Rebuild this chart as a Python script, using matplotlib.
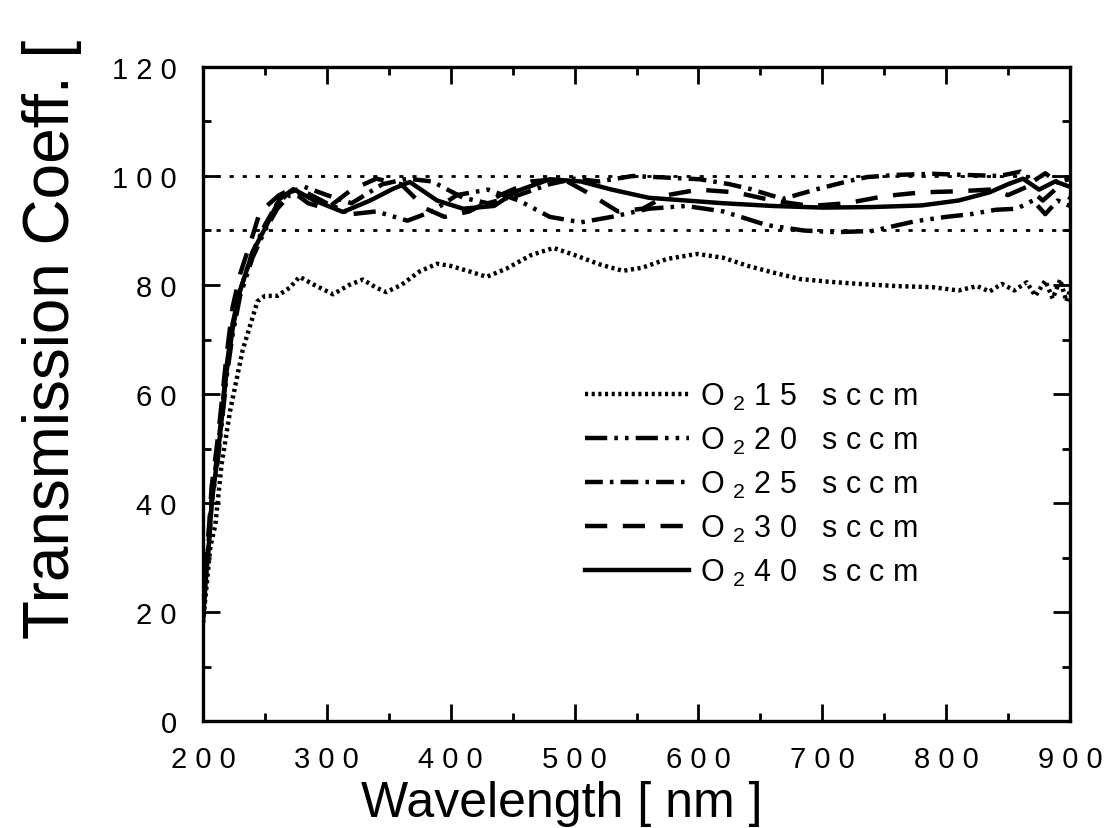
import numpy as np
import matplotlib
matplotlib.use('Agg')
import matplotlib.pyplot as plt
from matplotlib.ticker import MultipleLocator

#font setup - spaced out sans serif like the scanned figure
plt.rcParams['font.family'] = ['Liberation Sans', 'DejaVu Sans']
plt.rcParams['mathtext.fontset'] = 'custom'
plt.rcParams['mathtext.rm'] = 'Liberation Sans'

#data: wavelength [nm] and transmission [%]
rise_wl = [200, 202, 205, 207, 211, 214, 219, 224, 230, 240]

wl_15 = [200, 203, 206, 210, 215, 222, 232, 240, 244, 250, 260, 270, 278, 290, 305, 318,
         329, 340, 348, 360, 375, 389, 400, 415, 429, 445, 465, 483, 500, 520, 539, 555,
         575, 599, 620, 640, 660, 682, 705, 730, 760, 789, 810, 825, 835, 845, 855, 865,
         872, 880, 886, 892, 897, 900]
t_15 = [18, 25, 32, 36, 47, 57, 68, 74, 77, 78, 78, 79.5, 81.5, 80, 78.3, 80,
        81, 79.5, 78.7, 80, 82.5, 83.9, 83.5, 82.5, 81.5, 83, 85.5, 86.8, 85.5, 83.8, 82.6, 83.2,
        84.8, 85.7, 85, 83.5, 82.3, 81.1, 80.6, 80.2, 79.8, 79.6, 79.0, 79.8, 78.8, 80.2, 79, 80.5,
        78, 80.8, 77.5, 81, 77, 79]

wl_20 = rise_wl + [250, 260, 270, 283, 300, 320, 340, 365, 385, 405, 430, 455, 480, 505, 530,
                   560, 590, 620, 655, 685, 710, 740, 775, 800, 820, 840, 857, 870, 880, 890, 900]
t_20 = [19, 26, 33, 40, 46, 52, 63, 71, 78, 85] + \
       [90, 94, 96.5, 97, 95, 93, 93.5, 91.8, 93.5, 96.5, 97.5, 95.5, 92.5, 91.5, 92.5,
        94, 94.5, 93.5, 91, 90, 89.7, 89.9, 91.7, 92.5, 93, 93.8, 94, 95.5, 93, 95.5, 94.5]

wl_25 = rise_wl + [250, 260, 270, 282, 300, 320, 345, 365, 385, 410, 430, 455, 480, 500, 520,
                   547, 575, 601, 625, 642, 668, 696, 720, 736, 760, 789, 815, 843, 860, 870,
                   880, 890, 900]
t_25 = [20, 27, 34, 41, 48, 54, 65, 73, 79, 86] + \
       [91, 95, 97, 98, 96.5, 95, 98.5, 99.5, 99, 96, 95, 96.5, 98.5, 99.5, 99,
        100, 99.7, 99.4, 98.5, 97.6, 95.8, 97.6, 99, 99.8, 100.2, 100.4, 100.2, 100, 100.8, 99,
        100.5, 98.8, 99.5]

wl_30 = rise_wl + [246, 261, 270, 285, 300, 320, 340, 360, 380, 395, 415, 440, 465, 490, 510,
                   535, 555, 575, 600, 630, 660, 690, 720, 750, 780, 810, 835, 850, 865, 878,
                   888, 900]
t_30 = [20, 28, 36, 43, 50, 56, 67, 76, 82, 89] + \
       [93.4, 96.4, 97.5, 95, 94, 97.5, 99.5, 98.5, 94, 92.5, 93.5, 96.5, 99, 99.5, 97,
        93.5, 94, 96.5, 97.5, 97, 95.5, 94.5, 95, 96.3, 97, 97.2, 97.5, 96.5, 98, 95.5,
        97.5, 96]

wl_40 = rise_wl + [251, 262, 273, 290, 313, 335, 353, 367, 389, 410, 435, 453, 480, 505, 530,
                   560, 590, 620, 660, 700, 740, 780, 810, 835, 850, 862, 875, 888, 900]
t_40 = [18, 25, 33, 40, 47, 53, 64, 72, 79, 86] + \
       [90.8, 95.8, 97.6, 95.5, 93.4, 95.5, 97.6, 98.9, 95.5, 94, 94.5, 97.2, 99.4, 99, 97.5,
        96, 95.5, 95, 94.5, 94.2, 94.3, 94.6, 95.5, 97, 98.5, 99.5, 97.5, 99, 98]

series = [
    (wl_15, t_15, (0, (0.7, 0.8)), 'O $_2$ 1 5   s c c m'),
    (wl_20, t_20, (0, (5, 1.6, 0.8, 1.6, 0.8, 1.6)), 'O $_2$ 2 0   s c c m'),
    (wl_25, t_25, (0, (4, 1.6, 0.8, 1.6)), 'O $_2$ 2 5   s c c m'),
    (wl_30, t_30, (0, (5, 3.5)), 'O $_2$ 3 0   s c c m'),
    (wl_40, t_40, '-', 'O $_2$ 4 0   s c c m'),
]

fig = plt.figure(figsize=(11.06, 8.29), dpi=100)
ax = fig.add_axes([0.1835, 0.129, 0.784, 0.789])

#reference lines at 90 and 100 percent
for lvl in [90, 100]:
    ax.axhline(lvl, color='black', lw=2, linestyle=(0, (1.5, 3.2)))

for wl, t, ls, lab in series:
    ax.plot(wl, t, color='black', lw=3.2, linestyle=ls, label=lab)

ax.set_xlim(200, 900)
ax.set_ylim(0, 120)
ax.xaxis.set_minor_locator(MultipleLocator(50))
ax.yaxis.set_minor_locator(MultipleLocator(10))

xt = np.arange(200, 901, 100)
ax.set_xticks(xt)
ax.set_xticklabels([' '.join(str(v)) for v in xt])
yt = np.arange(0, 121, 20)
ax.set_yticks(yt)
ax.set_yticklabels([' '.join(str(v)) for v in yt])

ax.tick_params(which='both', direction='in', top=True, right=True, width=2)
ax.tick_params(which='major', length=12, labelsize=21)
ax.tick_params(axis='y', which='major', pad=19)
ax.tick_params(axis='x', which='major', pad=17)
ax.tick_params(which='minor', length=6)
for s in ax.spines.values():
    s.set_linewidth(2.4)

ax.set_xlabel('Wavelength [ nm ]', fontsize=36)
ax.xaxis.set_label_coords(0.414, -0.09)
ax.set_ylabel('Transmission Coeff. [', fontsize=46)
ax.yaxis.set_label_coords(-0.14, 0.585)

leg = ax.legend(loc='upper left', bbox_to_anchor=(0.4406, 0.52), frameon=False, fontsize=22,
                handlelength=3.4, handletextpad=0.35, labelspacing=0.42, borderpad=0,
                borderaxespad=0)

fig.savefig('out.png', dpi=100)
